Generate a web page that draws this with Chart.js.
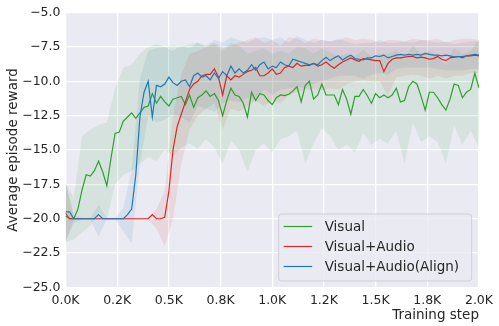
<!DOCTYPE html>
<html>
<head>
<meta charset="utf-8">
<script src="https://cdn.jsdelivr.net/npm/chart.js@4.4.1/dist/chart.umd.min.js"></script>
<style>
html, body { margin: 0; padding: 0; background: #ffffff; }
#wrap { width: 499px; height: 326px; }
</style>
</head>
<body>
<div id="wrap"><canvas id="chart" width="499" height="326"></canvas></div>
<script>
// ---------------------
// data
// ---------------------

// training steps for the mean curves (every 20 steps)
const steps = Array.from({ length: 101 }, (_, i) => i * 20);
// training steps for the shaded bands (every 40 steps)
const bandSteps = Array.from({ length: 51 }, (_, i) => i * 40);

const seriesLabels = ["Visual", "Visual+Audio", "Visual+Audio(Align)"];

const visualVals = [
-19.8, -20, -20, -19.3, -17.9, -16.8, -16.9, -16.5, -15.8, -16.6,
-17.6, -15.6, -13.8, -13.7, -12.9, -12.6, -12.3, -12.7, -12.3, -11.9,
-11.8, -10.9, -11.6, -11.1, -11.5, -11.8, -11.3, -11.2, -11.1, -11.7,
-11.0, -11.9, -11.2, -11.0, -10.7, -11.1, -10.9, -11.4, -12.5, -11.4,
-10.5, -11.0, -11.1, -11.6, -12.6, -10.8, -11.4, -10.9, -11.0, -11.4,
-11.7, -11.2, -11.0, -11.05, -10.95, -10.7, -10.4, -11.5, -10.3, -10.0,
-11.3, -11.0, -10.2, -11.0, -11.0, -11.0, -11.7, -10.6, -11.3, -12.4,
-11.1, -11.1, -10.6, -11.05, -11.6, -10.9, -11.2, -11.0, -11.2, -11.0,
-10.5, -11.5, -11.4, -10.4, -10.0, -10.2, -11.1, -12.1, -10.8, -10.8,
-11.2, -11.7, -12.1, -11.3, -10.2, -10.3, -11.2, -10.8, -10.6, -9.4,
-10.5
];

const audioVals = [
-19.6, -20, -20, -20, -20, -20, -20, -20, -20, -20,
-20, -20, -20, -20, -20, -20, -20, -20, -20, -20,
-20, -19.7, -20, -20, -19.9, -18.0, -15.0, -13.3, -12.4, -11.5,
-10.6, -10.2, -10.0, -9.6, -9.5, -9.5, -9.1, -9.7, -11.0, -9.6,
-9.9, -9.6, -9.7, -9.5, -9.3, -9.2, -9.0, -9.6, -9.6, -9.4,
-9.1, -9.5, -9.4, -9.0, -8.9, -9.0, -8.7, -8.9, -8.85, -8.85,
-8.7, -8.9, -8.8, -8.6, -8.85, -9.05, -8.8, -8.6, -8.45, -8.3,
-8.45, -8.55, -8.35, -8.4, -8.45, -8.5, -8.5, -9.3, -8.7, -8.4,
-8.3, -8.3, -8.25, -8.2, -8.2, -8.3, -8.25, -8.3, -8.4, -8.35,
-8.2, -8.4, -8.5, -8.3, -8.25, -8.2, -8.3, -8.15, -8.15, -8.1,
-8.15
];

const alignVals = [
-19.5, -19.5, -20, -20, -20, -20, -20, -20, -19.7, -20,
-20, -20, -20, -20, -20, -19.7, -19.3, -16.8, -12.6, -10.8,
-10.0, -12.6, -10.3, -10.4, -10.2, -9.7, -10.1, -10.3, -10.0, -9.9,
-10.4, -9.6, -9.4, -9.7, -9.6, -9.9, -9.4, -9.8, -9.3, -9.6,
-8.9, -9.4, -9.1, -9.4, -9.2, -8.8, -9.2, -8.8, -8.6, -9.1,
-8.9, -9.0, -8.6, -8.8, -8.9, -8.4, -8.5, -8.6, -8.7, -8.8,
-8.7, -8.8, -8.5, -8.25, -8.5, -8.3, -8.15, -8.45, -8.25, -8.1,
-8.35, -8.4, -8.45, -8.3, -8.3, -8.15, -8.2, -8.1, -8.3, -8.2,
-8.1, -8.05, -8.1, -8.05, -8.1, -8.05, -8.1, -7.97, -8.05, -8.1,
-8.1, -8.15, -8.1, -8.15, -8.25, -8.2, -8.2, -8.15, -8.1, -8.05,
-8.1
];

// shaded bands: upper and lower edges
const visualHi = [
-17.3, -18.5, -14.0, -13.5, -13.2, -13.0, -10.5, -9.0, -8.8, -8.0,
-7.5, -7.3, -7.5, -7.4, -7.5, -7.3, -7.2, -7.5, -7.3, -7.8,
-7.2, -7.4, -8.0, -7.8, -7.6, -8.0, -7.8, -8.0, -7.5, -7.6,
-8.0, -7.6, -7.9, -8.2, -8.0, -8.2, -7.7, -8.2, -8.0, -8.0,
-7.7, -8.4, -7.4, -8.0, -7.8, -8.2, -8.8, -7.6, -8.0, -7.8,
-7.0
];
const visualLo = [
-21.7, -21.5, -21.0, -20.5, -19.5, -20.0, -17.5, -16.8, -16.5, -16.0,
-15.5, -15.8, -15.0, -15.5, -14.8, -14.5, -14.9, -14.2, -14.8, -16.0,
-14.3, -15.0, -16.6, -15.0, -14.5, -15.2, -14.2, -14.0, -13.6, -16.0,
-14.5, -13.4, -14.0, -15.0, -14.6, -15.2, -13.8, -14.6, -14.2, -14.5,
-13.6, -16.0, -13.0, -14.4, -14.0, -14.4, -16.0, -13.2, -14.6, -13.6,
-14.8
];
const audioHi = [
-17.3, -19.95, -19.95, -19.95, -19.95, -19.95, -19.95, -19.95, -19.95, -19.95,
-19.95, -19.3, -18.0, -12.5, -9.5, -8.0, -7.8, -7.5, -7.2, -7.6,
-7.4, -7.2, -7.0, -6.8, -7.2, -7.0, -7.4, -6.8, -6.9, -7.2,
-6.9, -7.0, -7.1, -7.0, -6.8, -7.0, -6.9, -7.0, -7.2, -7.0,
-7.0, -7.1, -6.9, -7.0, -7.0, -6.9, -7.2, -7.0, -6.9, -6.9,
-7.0
];
const audioLo = [
-21.7, -20.05, -20.05, -20.05, -20.05, -20.05, -20.05, -20.05, -20.05, -20.05,
-20.05, -20.7, -22.0, -20.0, -16.0, -13.5, -12.5, -12.0, -11.6, -13.5,
-12.0, -12.2, -11.8, -11.4, -11.8, -11.4, -11.6, -11.0, -10.8, -10.6,
-10.6, -10.6, -10.5, -10.6, -10.2, -10.0, -9.9, -10.0, -10.0, -11.0,
-9.7, -9.6, -9.5, -9.6, -9.8, -9.6, -9.8, -9.6, -9.6, -9.4,
-9.4
];
const alignHi = [
-17.3, -19.7, -19.95, -19.95, -19.0, -19.95, -19.95, -19.2, -16.5, -9.8,
-7.8, -7.6, -7.5, -7.8, -7.4, -7.6, -7.2, -7.4, -7.0, -7.2,
-6.8, -7.0, -7.2, -6.9, -6.8, -7.0, -6.8, -7.2, -6.7, -7.0,
-7.2, -7.0, -7.1, -6.9, -7.1, -7.3, -7.2, -7.2, -7.0, -7.2,
-7.2, -7.1, -7.2, -7.0, -7.1, -7.2, -7.1, -7.3, -7.2, -7.1,
-7.1
];
const alignLo = [
-21.7, -20.3, -20.05, -20.05, -21.3, -20.05, -20.05, -20.9, -21.8, -16.0,
-12.5, -13.0, -12.8, -12.4, -12.6, -13.0, -11.8, -12.0, -12.2, -11.6,
-11.4, -11.5, -11.2, -11.4, -10.6, -11.0, -10.6, -10.5, -10.4, -10.5,
-10.2, -10.0, -9.8, -9.6, -9.6, -9.6, -9.8, -9.5, -9.4, -9.5,
-9.1, -9.0, -9.0, -9.0, -9.0, -9.1, -9.2, -9.2, -9.2, -9.1,
-9.1
];

const xTickLabels = ["0.0K", "0.2K", "0.5K", "0.8K", "1.0K", "1.2K", "1.5K", "1.8K", "2.0K"];

// =====================
// helpers
// =====================

const green = "#2ca02c";
const red = "#d62728";
const blue = "#1f77b4";

function pts(xs, ys){
return ys.map((v, i) => ({ x: xs[i], y: v }));
}

function lineSet(label, xs, ys, color, order){
return {
label: label,
data: pts(xs, ys),
borderColor: color,
borderWidth: 1.2,
pointRadius: 0,
fill: false,
tension: 0,
order: order
};
}

function bandSet(xs, ys, color, fill){
return {
label: "",
data: pts(xs, ys),
borderWidth: 0,
borderColor: "rgba(0,0,0,0)",
backgroundColor: color,
pointRadius: 0,
fill: fill,
tension: 0,
order: 5
};
}

// background of the plot area
const plotBg = {
id: "plotBg",
beforeDraw(chart){
let a = chart.chartArea, ctx = chart.ctx;
ctx.save();
ctx.fillStyle = "#eaeaf2";
ctx.fillRect(a.left, a.top, a.right - a.left, a.bottom - a.top);
ctx.restore();
}
};

// legend box in the lower right corner
const boxLegend = {
id: "boxLegend",
afterDraw(chart){
let a = chart.chartArea, ctx = chart.ctx;
let w = 193, h = 67;
let x = a.right - 7.3 - w;
let y = a.bottom - 6.5 - h;

ctx.save();
ctx.beginPath();
ctx.roundRect(x, y, w, h, 3);
ctx.fillStyle = "rgba(234,234,242,0.8)";
ctx.fill();
ctx.strokeStyle = "#cfcfd6";
ctx.lineWidth = 1;
ctx.stroke();

let colors = [green, red, blue];
ctx.font = "13.5px 'DejaVu Sans'";
ctx.textBaseline = "middle";
ctx.fillStyle = "#262626";
seriesLabels.forEach((lab, i) => {
let cy = y + 12.5 + i * 20;
ctx.beginPath();
ctx.moveTo(x + 5, cy);
ctx.lineTo(x + 33.5, cy);
ctx.strokeStyle = colors[i];
ctx.lineWidth = 1.2;
ctx.stroke();
ctx.fillStyle = "#262626";
ctx.fillText(lab, x + 46, cy + 0.5);
});
ctx.restore();
}
};

// =====================
// chart
// =====================

Chart.defaults.font.family = "'DejaVu Sans'";
Chart.defaults.color = "#262626";

new Chart(document.getElementById("chart"), {
type: "line",
data: {
datasets: [
lineSet(seriesLabels[0], steps, visualVals, green, 2),
lineSet(seriesLabels[1], steps, audioVals, red, 1),
lineSet(seriesLabels[2], steps, alignVals, blue, 0),
bandSet(bandSteps, visualHi, "rgba(44,160,44,0.1)", "+1"),
bandSet(bandSteps, visualLo, "rgba(0,0,0,0)", false),
bandSet(bandSteps, audioHi, "rgba(214,39,40,0.1)", "+1"),
bandSet(bandSteps, audioLo, "rgba(0,0,0,0)", false),
bandSet(bandSteps, alignHi, "rgba(31,119,180,0.1)", "+1"),
bandSet(bandSteps, alignLo, "rgba(0,0,0,0)", false)
]
},
options: {
responsive: false,
animation: false,
devicePixelRatio: 1,
layout: { padding: { left: 0, right: 15.7, top: 7, bottom: 0 } },
plugins: {
legend: { display: false },
tooltip: { enabled: false }
},
scales: {
x: {
type: "linear",
min: 0,
max: 2000,
afterFit: s => { s.height = 38.5; },
grid: { color: "#ffffff", lineWidth: 1.3, drawTicks: false },
border: { display: false },
ticks: {
stepSize: 250,
autoSkip: false,
maxRotation: 0,
padding: 6,
font: { size: 12.5 },
callback: (v) => xTickLabels[Math.round(v / 250)]
},
title: {
display: true,
text: "Training step",
align: "end",
font: { size: 13.5 },
padding: { top: 0, bottom: 2 }
}
},
y: {
min: -25,
max: -5,
afterFit: s => { s.width = 65.5; },
grid: { color: "#ffffff", lineWidth: 1.3, drawTicks: false },
border: { display: false },
ticks: {
stepSize: 2.5,
padding: 5,
font: { size: 12.5 },
callback: (v) => v.toFixed(1).replace("-", "\u2212")
},
title: {
display: true,
text: "Average episode reward",
font: { size: 13.5 },
padding: { top: 5.5, bottom: 0 }
}
}
}
},
plugins: [plotBg, boxLegend]
});
</script>
</body>
</html>
